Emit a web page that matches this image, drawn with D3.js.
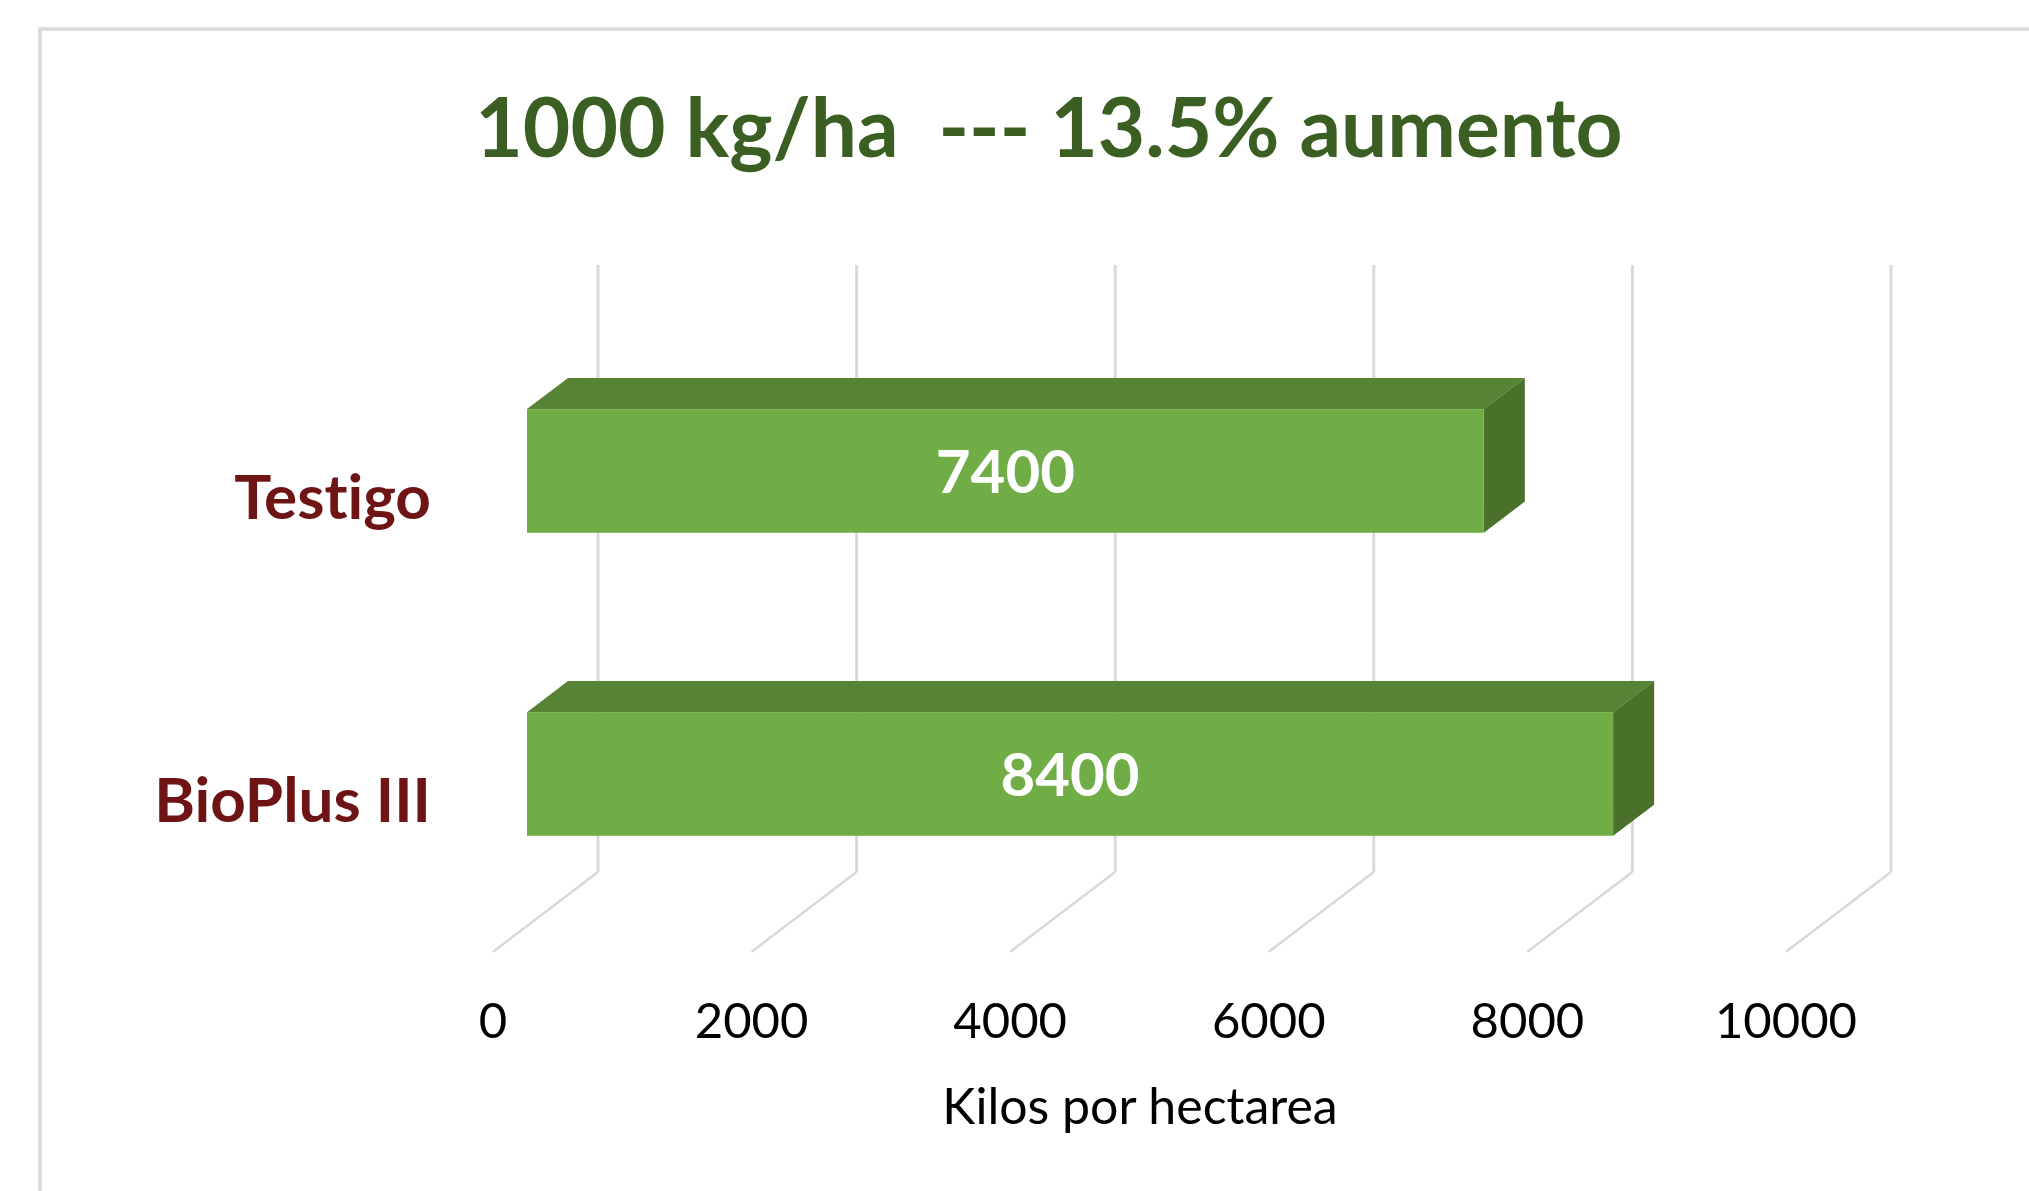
<!DOCTYPE html>
<html>
<head>
<meta charset="utf-8">
<script src="https://cdn.jsdelivr.net/npm/d3@7"></script>
<style>
  html, body { margin: 0; padding: 0; background: #fff; overflow: hidden; }
  text { font-family: Lato, "Open Sans", sans-serif; font-variant-ligatures: none; }
</style>
</head>
<body>
<div id="chart"></div>
<script>
const categories = ["Testigo", "BioPlus III"];
const values = [7400, 8400];
const ticks = [0, 2000, 4000, 6000, 8000, 10000];
const title = "1000 kg/ha  --- 13.5% aumento";
const axisTitle = "Kilos por hectarea";

const width = 2029;
const height = 1191;

// back wall of the 3d plot
const wall = { left: 598, top: 265, bottom: 872, width: 1293 };
const slope = 0.76; // depth direction: (-1, slope)
const barFront = 71, barBack = 30, floorFront = 105;

const x = d3.scaleLinear()
  .domain([0, 10000])
  .range([wall.left, wall.left + wall.width]);

// categories laid out along the back wall, shifted forward later
const y = d3.scaleBand()
  .domain(categories)
  .range([wall.top, wall.bottom])
  .paddingInner(0.592)
  .paddingOuter(0.2975);

const svg = d3.select("#chart")
  .append("svg")
  .attr("width", width)
  .attr("height", height);

// frame
svg.append("rect")
  .attr("x", 40).attr("y", 29)
  .attr("width", 2200).attr("height", 1400)
  .attr("fill", "none")
  .attr("stroke", "#d9d9d9")
  .attr("stroke-width", 3.5);

// title
svg.append("text")
  .attr("x", 1049).attr("y", 157)
  .attr("text-anchor", "middle")
  .attr("font-size", 82)
  .attr("font-weight", 700)
  .attr("fill", "#3b5e22")
  .style("white-space", "pre")
  .text(title);

// gridlines: back wall verticals + floor diagonals
const grid = svg.append("g")
  .attr("stroke", "#d9d9d9")
  .attr("fill", "none");

grid.selectAll("line.v")
  .data(ticks)
  .join("line")
    .attr("class", "v")
    .attr("x1", d => x(d)).attr("x2", d => x(d))
    .attr("y1", wall.top).attr("y2", wall.bottom)
    .attr("stroke-width", 3);

grid.selectAll("line.f")
  .data(ticks)
  .join("line")
    .attr("class", "f")
    .attr("x1", d => x(d)).attr("y1", wall.bottom)
    .attr("x2", d => x(d) - floorFront).attr("y2", wall.bottom + floorFront * slope)
    .attr("stroke-width", 2.5);

// bars
const rows = categories.map((c, i) => ({ cat: c, value: values[i] }));
const bars = svg.append("g").selectAll("g")
  .data(rows)
  .join("g");

const fx = v => x(v) - barFront;
const fy = c => y(c) + barFront * slope;
const dx = barFront - barBack, dy = (barFront - barBack) * slope;

// top face
bars.append("path")
  .attr("fill", "#578335")
  .attr("d", d => {
    const x0 = fx(0), x1 = fx(d.value), y0 = fy(d.cat);
    return `M${x0},${y0}L${x0 + dx},${y0 - dy}L${x1 + dx},${y0 - dy}L${x1},${y0}Z`;
  });

// side face
bars.append("path")
  .attr("fill", "#4a7129")
  .attr("d", d => {
    const x1 = fx(d.value), y0 = fy(d.cat), y1 = y0 + y.bandwidth();
    return `M${x1},${y0}L${x1 + dx},${y0 - dy}L${x1 + dx},${y1 - dy}L${x1},${y1}Z`;
  });

// front face
bars.append("rect")
  .attr("fill", "#70ad47")
  .attr("x", fx(0))
  .attr("y", d => fy(d.cat))
  .attr("width", d => fx(d.value) - fx(0))
  .attr("height", y.bandwidth());

// value labels
bars.append("text")
  .attr("x", d => (fx(0) + fx(d.value)) / 2)
  .attr("y", d => fy(d.cat) + y.bandwidth() / 2)
  .attr("dy", "0.36em")
  .attr("text-anchor", "middle")
  .attr("font-size", 60)
  .attr("font-weight", 700)
  .attr("fill", "#fff")
  .text(d => d.value);

// category labels (front plane)
svg.append("g").selectAll("text")
  .data(categories)
  .join("text")
    .attr("x", 431)
    .attr("y", d => y(d) + y.bandwidth() / 2 + floorFront * slope)
    .attr("dy", "0.36em")
    .attr("text-anchor", "end")
    .attr("font-size", 62)
    .attr("font-weight", 700)
    .attr("fill", "#6e1414")
    .text(d => d);

// tick labels
svg.append("g").selectAll("text")
  .data(ticks)
  .join("text")
    .attr("x", d => x(d) - floorFront)
    .attr("y", 1020)
    .attr("dy", "0.36em")
    .attr("text-anchor", "middle")
    .attr("font-size", 49)
    .attr("fill", "#000")
    .text(d => d);

// axis title
svg.append("text")
  .attr("x", 1140).attr("y", 1106)
  .attr("dy", "0.36em")
  .attr("text-anchor", "middle")
  .attr("font-size", 50)
  .attr("fill", "#000")
  .text(axisTitle);
</script>
</body>
</html>
